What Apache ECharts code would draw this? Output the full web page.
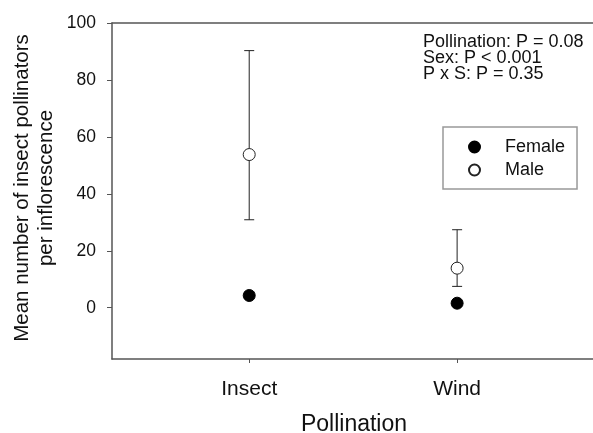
<!DOCTYPE html>
<html>
<head>
<meta charset="utf-8">
<script src="https://cdn.jsdelivr.net/npm/echarts@6/dist/echarts.min.js"></script>
<style>html,body{margin:0;padding:0;background:#fff;}#c{width:593px;height:433px;}</style>
</head>
<body>
<div id="c"></div>
<script>
var categories = ['Insect', 'Wind'];
var femaleMean = [4.3, 1.6];
var femaleLower = [3.2, 0.8];
var femaleUpper = [5.4, 2.4];
var maleMean = [53.8, 13.9];
var maleLower = [30.9, 7.5];
var maleUpper = [90.3, 27.4];
var yTicks = [0, 20, 40, 60, 80, 100];
var statLines = ['Pollination: P = 0.08', 'Sex: P < 0.001', 'P x S: P = 0.35'];

var FONT = "'Liberation Sans', Arial, sans-serif";
var xPos = categories.map(function (c, i) { return i + 1; });

function pts(means) { return means.map(function (v, i) { return [xPos[i], v]; }); }
function errs(lo, hi) { return lo.map(function (v, i) { return [xPos[i], v, hi[i]]; }); }

function errRender(params, api) {
  var x = api.value(0);
  var a = api.coord([x, api.value(1)]);
  var b = api.coord([x, api.value(2)]);
  var hw = 5;
  var st = { stroke: '#222', lineWidth: 1 };
  return {
    type: 'group',
    children: [
      { type: 'line', shape: { x1: a[0], y1: a[1], x2: b[0], y2: b[1] }, style: st },
      { type: 'line', shape: { x1: a[0] - hw, y1: a[1], x2: a[0] + hw, y2: a[1] }, style: st },
      { type: 'line', shape: { x1: b[0] - hw, y1: b[1], x2: b[0] + hw, y2: b[1] }, style: st }
    ]
  };
}

var chart = echarts.init(document.getElementById('c'));
chart.setOption({
  animation: false,
  backgroundColor: '#fff',
  grid: { left: 112, right: -3, top: 23, bottom: 74, show: false, outerBoundsMode: 'none', containLabel: false },
  xAxis: [{
    type: 'value', min: 0.34, max: 2.668,
    axisLine: { show: true, onZero: false, lineStyle: { color: '#555', width: 1.5 } },
    axisTick: { show: true, length: 4, customValues: xPos, lineStyle: { color: '#555' } },
    axisLabel: { customValues: xPos, margin: 20, fontSize: 21, color: '#111', fontFamily: FONT,
      formatter: function (v) { return categories[Math.round(v) - 1] || ''; } },
    splitLine: { show: false },
    name: 'Pollination', nameLocation: 'middle', nameGap: 54,
    nameTextStyle: { fontSize: 23, color: '#111', fontFamily: FONT }
  }, {
    type: 'value', position: 'top', min: 0.34, max: 2.668,
    axisLine: { show: true, onZero: false, lineStyle: { color: '#555', width: 1.5 } },
    axisTick: { show: false }, axisLabel: { show: false }, splitLine: { show: false }
  }],
  yAxis: {
    type: 'value', min: -18, max: 100,
    axisLine: { show: true, onZero: false, lineStyle: { color: '#555', width: 1.5 } },
    axisTick: { show: true, length: 5, customValues: yTicks, lineStyle: { color: '#555' } },
    axisLabel: { customValues: yTicks, margin: 16, fontSize: 17.5, color: '#111', fontFamily: FONT },
    splitLine: { show: false }
  },
  legend: {
    orient: 'vertical', left: 443, top: 127,
    padding: [10, 12, 9, 25], itemGap: 3,
    itemWidth: 11, itemHeight: 11,
    borderColor: '#999', borderWidth: 1.5, backgroundColor: '#fff',
    textStyle: { fontSize: 18, color: '#111', fontFamily: FONT, lineHeight: 20, padding: [0, 0, 0, 20] },
    data: ['Female', 'Male']
  },
  graphic: [
    { type: 'text', left: 423, top: 33, z: 100,
      style: { text: statLines.join('\n'), fontSize: 18, lineHeight: 16, fill: '#111', fontFamily: FONT } },
    { type: 'text', x: 34, y: 188, rotation: Math.PI / 2, z: 100,
      style: { text: 'Mean number of insect pollinators\nper inflorescence', fontSize: 20.5, lineHeight: 24,
        fill: '#111', fontFamily: FONT, align: 'center', verticalAlign: 'middle' } }
  ],
  series: [
    { type: 'custom', name: 'femaleErr', renderItem: errRender, data: errs(femaleLower, femaleUpper), z: 2, silent: true },
    { type: 'custom', name: 'maleErr', renderItem: errRender, data: errs(maleLower, maleUpper), z: 2, silent: true },
    { type: 'scatter', name: 'Female', data: pts(femaleMean), symbol: 'circle', symbolSize: 12, z: 3,
      itemStyle: { color: '#000', borderColor: '#000', borderWidth: 1, opacity: 1 } },
    { type: 'scatter', name: 'Male', data: pts(maleMean), symbol: 'circle', symbolSize: 12, z: 3,
      itemStyle: { color: '#fff', borderColor: '#222', borderWidth: 1, opacity: 1 } }
  ]
});
</script>
</body>
</html>
